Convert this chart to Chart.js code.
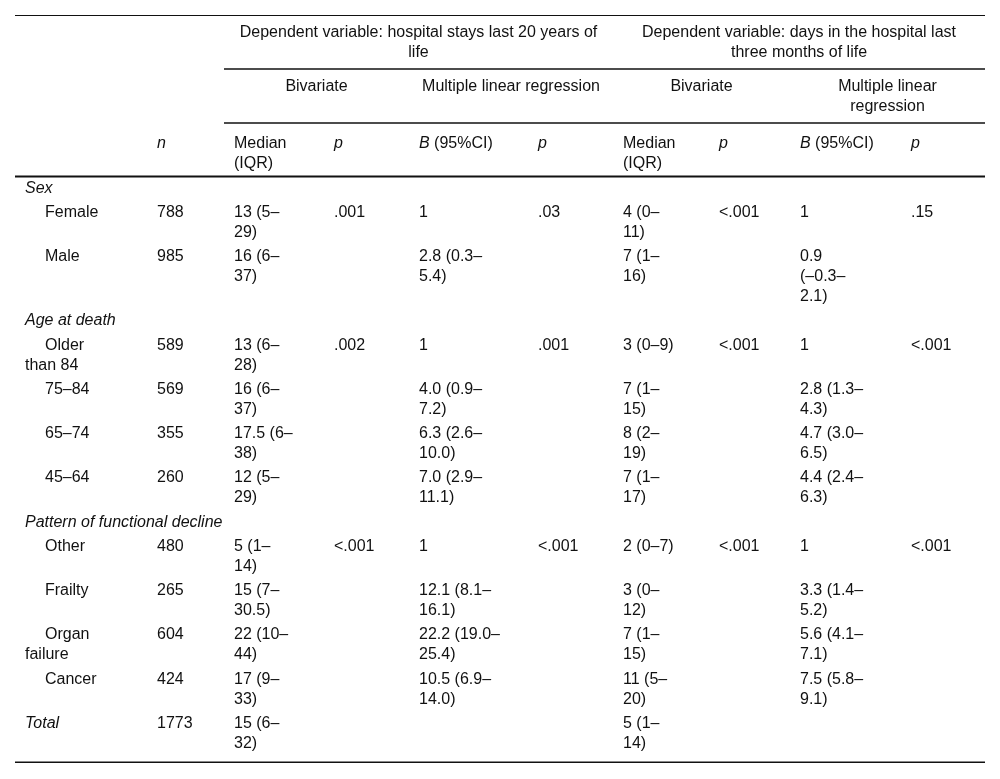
<!DOCTYPE html>
<html>
<head>
<meta charset="utf-8">
<script src="https://cdn.jsdelivr.net/npm/chart.js@4.4.1/dist/chart.umd.min.js"></script>
<style>
  html, body { margin: 0; padding: 0; background: #ffffff; }
  #wrap { width: 1000px; height: 779px; }
</style>
</head>
<body>
<div id="wrap"><canvas id="c" width="1000" height="779"></canvas></div>
<script>
// ---------------- DATA ----------------
const rowLabels = ['Sex', 'Female', 'Male', 'Age at death', 'Older than 84', '75–84', '65–74', '45–64',
  'Pattern of functional decline', 'Other', 'Frailty', 'Organ failure', 'Cancer', 'Total'];
const groupRows = ['Sex', 'Age at death', 'Pattern of functional decline', 'Total'];

const nCounts = [null, 788, 985, null, 589, 569, 355, 260, null, 480, 265, 604, 424, 1773];

// Dependent variable: hospital stays last 20 years of life
const stayMedianIQR = ['', '13 (5–29)', '16 (6–37)', '', '13 (6–28)', '16 (6–37)', '17.5 (6–38)', '12 (5–29)',
  '', '5 (1–14)', '15 (7–30.5)', '22 (10–44)', '17 (9–33)', '15 (6–32)'];
const stayBivariateP = ['', '.001', '', '', '.002', '', '', '', '', '<.001', '', '', '', ''];
const stayB = ['', '1', '2.8 (0.3–5.4)', '', '1', '4.0 (0.9–7.2)', '6.3 (2.6–10.0)', '7.0 (2.9–11.1)',
  '', '1', '12.1 (8.1–16.1)', '22.2 (19.0–25.4)', '10.5 (6.9–14.0)', ''];
const stayRegressionP = ['', '.03', '', '', '.001', '', '', '', '', '<.001', '', '', '', ''];

// Dependent variable: days in the hospital last three months of life
const daysMedianIQR = ['', '4 (0–11)', '7 (1–16)', '', '3 (0–9)', '7 (1–15)', '8 (2–19)', '7 (1–17)',
  '', '2 (0–7)', '3 (0–12)', '7 (1–15)', '11 (5–20)', '5 (1–14)'];
const daysBivariateP = ['', '<.001', '', '', '<.001', '', '', '', '', '<.001', '', '', '', ''];
const daysB = ['', '1', '0.9 (–0.3–2.1)', '', '1', '2.8 (1.3–4.3)', '4.7 (3.0–6.5)', '4.4 (2.4–6.3)',
  '', '1', '3.3 (1.4–5.2)', '5.6 (4.1–7.1)', '7.5 (5.8–9.1)', ''];
const daysRegressionP = ['', '.15', '', '', '<.001', '', '', '', '', '<.001', '', '', '', ''];

// Header labels
const groupTitles = [
  ['Dependent variable: hospital stays last 20 years of', 'life'],
  ['Dependent variable: days in the hospital last', 'three months of life']
];
const subTitles = [['Bivariate'], ['Multiple linear regression'], ['Bivariate'], ['Multiple linear', 'regression']];
const columnTitles = [
  [[{ t: 'n', it: true }]],
  ['Median', '(IQR)'],
  [[{ t: 'p', it: true }]],
  [[{ t: 'B', it: true }, { t: ' (95%CI)' }]],
  [[{ t: 'p', it: true }]],
  ['Median', '(IQR)'],
  [[{ t: 'p', it: true }]],
  [[{ t: 'B', it: true }, { t: ' (95%CI)' }]],
  [[{ t: 'p', it: true }]]
];

// ---------------- LAYOUT / STYLE ----------------
const FONT_FAMILY = '"Liberation Sans", Arial, Helvetica, sans-serif';
const FONT_SIZE = 16;
const LINE_H = 20;
const ROW_GAP = 4.25;
const TEXT_COLOR = '#111111';
const RULE_COLOR = '#111111';
const colEdges = [15, 147, 224, 324, 409, 528, 613, 709, 790, 901, 985];
const CELL_PAD = 10;
const wrapWidths = [84, 200, 59.1, 200, 86, 200, 55, 200, 65.6, 200];
const LABEL_INDENT = 20;
const groupSpans = [[2, 5], [6, 9]];
const subSpans = [[2, 3], [4, 5], [6, 7], [8, 9]];
const headerBaselines = [36.5, 90.5, 148];
const ruleYs = { top: 15.5, group: 69, sub: 123, head: 176.5 };
const BODY_FIRST_BASELINE = 192.5;
const BOTTOM_RULE_OFFSET = 14.5;

function fontStr(italic) { return (italic ? 'italic ' : '') + FONT_SIZE + 'px ' + FONT_FAMILY; }

const measureCtx = document.createElement('canvas').getContext('2d');
function textWidth(s, italic) { measureCtx.font = fontStr(italic); return measureCtx.measureText(s).width; }

function wrapText(text, maxW, firstIndent) {
  firstIndent = firstIndent || 0;
  const tokens = [];
  let cur = '';
  for (let k = 0; k < text.length; k++) {
    const ch = text[k];
    const prev = text[k - 1];
    cur += ch;
    if (ch === ' ' || (ch === '–' && prev && /[0-9A-Za-z]/.test(prev))) { tokens.push(cur); cur = ''; }
  }
  if (cur) tokens.push(cur);
  const lines = [];
  let line = '';
  for (const tk of tokens) {
    const avail = maxW - (lines.length === 0 ? firstIndent : 0);
    const trial = line + tk;
    if (line && textWidth(trial.trimEnd(), false) > avail) { lines.push(line.trimEnd()); line = tk; }
    else line = trial;
  }
  if (line) lines.push(line.trimEnd());
  return lines;
}

// ---------------- BUILD CELLS ----------------
const cellPoints = [];
function addCell(x, y, lines, opts) {
  opts = opts || {};
  cellPoints.push({ x: x, y: y, lines: lines, align: opts.align || 'left', italic: !!opts.italic, indent: opts.indent || 0 });
}
function spanCenter(s) { return (colEdges[s[0]] + colEdges[s[1] + 1]) / 2; }
function colTextX(c) { return colEdges[c] + CELL_PAD; }

// header
groupSpans.forEach((s, i) => addCell(spanCenter(s), headerBaselines[0], groupTitles[i], { align: 'center' }));
subSpans.forEach((s, i) => addCell(spanCenter(s), headerBaselines[1], subTitles[i], { align: 'center' }));
columnTitles.forEach((t, i) => addCell(colTextX(i + 1), headerBaselines[2], t));

// body
const bodyColumns = [nCounts, stayMedianIQR, stayBivariateP, stayB, stayRegressionP,
  daysMedianIQR, daysBivariateP, daysB, daysRegressionP];
let cursor = BODY_FIRST_BASELINE;
let lastBottom = cursor;
rowLabels.forEach((label, i) => {
  const isGroup = groupRows.includes(label);
  const labelLines = isGroup ? [label] : wrapText(label, wrapWidths[0], LABEL_INDENT);
  let nLines = labelLines.length;
  addCell(colTextX(0), cursor, labelLines, { italic: isGroup, indent: isGroup ? 0 : LABEL_INDENT });
  bodyColumns.forEach((col, c) => {
    const v = col[i];
    if (v === null || v === undefined || v === '') return;
    const lines = wrapText(String(v), wrapWidths[c + 1], 0);
    nLines = Math.max(nLines, lines.length);
    addCell(colTextX(c + 1), cursor, lines);
  });
  lastBottom = cursor + (nLines - 1) * LINE_H;
  cursor += nLines * LINE_H + ROW_GAP;
});
const bottomRuleY = lastBottom + BOTTOM_RULE_OFFSET;

// rules
function rule(x0, x1, y, w) {
  return { data: [{ x: x0, y: y }, { x: x1, y: y }], showLine: true, borderColor: RULE_COLOR,
    borderWidth: w, pointRadius: 0, fill: false, tension: 0 };
}
const ruleDatasets = [
  rule(colEdges[0], colEdges[10], ruleYs.top, 1),
  rule(colEdges[2], colEdges[10], ruleYs.group, 1.5),
  rule(colEdges[2], colEdges[10], ruleYs.sub, 1.5),
  rule(colEdges[0], colEdges[10], ruleYs.head, 2),
  rule(colEdges[0], colEdges[10], bottomRuleY, 1.5)
];

// ---------------- TEXT PLUGIN ----------------
const cellTextPlugin = {
  id: 'cellText',
  afterDatasetsDraw(chart) {
    const ctx = chart.ctx;
    const yScale = chart.scales.y;
    const idx = chart.data.datasets.findIndex(d => d.label === 'cells');
    const meta = chart.getDatasetMeta(idx);
    ctx.save();
    ctx.fillStyle = TEXT_COLOR;
    ctx.textBaseline = 'alphabetic';
    ctx.textAlign = 'left';
    meta.data.forEach((el, j) => {
      const p = chart.data.datasets[idx].data[j];
      p.lines.forEach((line, li) => {
        const segs = Array.isArray(line) ? line : [{ t: line, it: p.italic }];
        let w = 0;
        segs.forEach(s => { w += textWidth(s.t, s.it); });
        let x = p.align === 'center' ? el.x - w / 2 : el.x + (li === 0 ? p.indent : 0);
        const y = yScale.getPixelForValue(p.y + li * LINE_H);
        segs.forEach(s => {
          ctx.font = fontStr(s.it);
          ctx.fillText(s.t, x, y);
          x += ctx.measureText(s.t).width;
        });
      });
    });
    ctx.restore();
  }
};

new Chart(document.getElementById('c'), {
  type: 'scatter',
  data: {
    datasets: ruleDatasets.concat([{ label: 'cells', data: cellPoints, pointRadius: 0, showLine: false }])
  },
  options: {
    responsive: false,
    animation: false,
    events: [],
    layout: { padding: 0 },
    plugins: { legend: { display: false }, tooltip: { enabled: false } },
    scales: {
      x: { type: 'linear', min: 0, max: 1000, display: false },
      y: { type: 'linear', min: 0, max: 779, reverse: true, display: false }
    }
  },
  plugins: [cellTextPlugin]
});
</script>
</body>
</html>
